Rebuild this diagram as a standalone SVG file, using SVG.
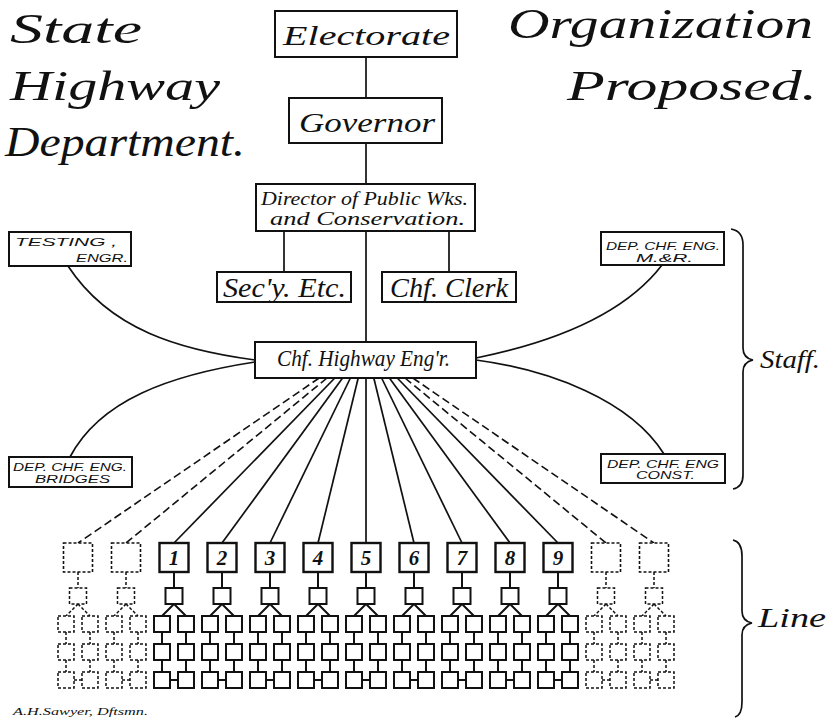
<svg xmlns="http://www.w3.org/2000/svg" xmlns:xlink="http://www.w3.org/1999/xlink" width="829" height="720" viewBox="0 0 829 720">
<style>
.title{font-family:"Liberation Serif","DejaVu Serif",serif;font-style:italic;fill:#111}
.lbl{font-family:"Liberation Serif","DejaVu Serif",serif;font-style:italic;fill:#111}
.cap{font-family:"Liberation Sans","DejaVu Sans",sans-serif;font-style:italic;font-size:11.5px;fill:#111}
.num{font-family:"Liberation Serif","DejaVu Serif",serif;font-style:italic;font-weight:bold;font-size:21px;fill:#111;text-anchor:middle}
.box{fill:#fff;stroke:#111;stroke-width:2}
.nbox{fill:#fff;stroke:#111;stroke-width:2.4}
.dbox{fill:#fff;stroke:#111;stroke-width:1.6;stroke-dasharray:3 2}
.ln{fill:none;stroke:#111;stroke-width:1.7}
.dash{fill:none;stroke:#111;stroke-width:1.6;stroke-dasharray:8 4}
.solid{stroke:#111;stroke-width:2;fill:none}
.dot{stroke:#111;stroke-width:1.5;stroke-dasharray:3 2;fill:none}
</style>
<defs>
<g id="subtree">
<path d="M0 572V588M0 604L-12 616M0 604L12 616M-12 632V644M12 632V644M-12 660V672M12 660V672M-4 680H4"/>
<rect x="-8.5" y="588" width="17" height="16" fill="#fff"/>
<rect x="-20" y="616" width="16" height="16" fill="#fff"/>
<rect x="4" y="616" width="16" height="16" fill="#fff"/>
<rect x="-20" y="644" width="16" height="16" fill="#fff"/>
<rect x="4" y="644" width="16" height="16" fill="#fff"/>
<rect x="-20" y="672" width="16" height="16" fill="#fff"/>
<rect x="4" y="672" width="16" height="16" fill="#fff"/>
</g>
</defs>
<rect width="829" height="720" fill="#fff"/>

<g id="titles">
<text class="title" x="10" y="43" font-size="42" textLength="132" lengthAdjust="spacingAndGlyphs">State</text>
<text class="title" x="10" y="100" font-size="42" textLength="210" lengthAdjust="spacingAndGlyphs">Highway</text>
<text class="title" x="5" y="156" font-size="42" textLength="240" lengthAdjust="spacingAndGlyphs">Department.</text>
<text class="title" x="508" y="38" font-size="42" textLength="305" lengthAdjust="spacingAndGlyphs">Organization</text>
<text class="title" x="567" y="100" font-size="42" textLength="250" lengthAdjust="spacingAndGlyphs">Proposed.</text>
</g>

<g id="connectors">
<path class="ln" d="M366 57V98M366 143V184M366 231V342M284 231V272M449 231V272"/>
<path class="ln" d="M68 266C110 330 180 350 255 360"/>
<path class="ln" d="M70 457C100 400 170 375 255 362"/>
<path class="ln" d="M662 265C620 320 540 345 476 358"/>
<path class="ln" d="M664 454C630 400 550 370 476 360"/>
<path class="dash" d="M319.2 378L78 543"/>
<path class="dash" d="M327 378L126 543"/>
<path class="ln" d="M334.8 378L174 543"/>
<path class="ln" d="M342.6 378L222 543"/>
<path class="ln" d="M350.4 378L270 543"/>
<path class="ln" d="M358.2 378L318 543"/>
<path class="ln" d="M366 378L366 543"/>
<path class="ln" d="M373.8 378L414 543"/>
<path class="ln" d="M381.6 378L462 543"/>
<path class="ln" d="M389.4 378L510 543"/>
<path class="ln" d="M397.2 378L558 543"/>
<path class="dash" d="M405 378L606 543"/>
<path class="dash" d="M412.8 378L654 543"/>
</g>

<g id="electorate">
<rect class="box" x="275" y="11" width="182" height="46"/>
<text class="lbl" x="283" y="45" font-size="28" textLength="167" lengthAdjust="spacingAndGlyphs">Electorate</text>
</g>
<g id="governor">
<rect class="box" x="289" y="98" width="153" height="45"/>
<text class="lbl" x="299" y="132" font-size="28" textLength="136" lengthAdjust="spacingAndGlyphs">Governor</text>
</g>
<g id="director">
<rect class="box" x="256" y="184" width="219" height="47"/>
<text class="lbl" x="261" y="205" font-size="19" textLength="207" lengthAdjust="spacingAndGlyphs">Director of Public Wks.</text>
<text class="lbl" x="270" y="225" font-size="19" textLength="195" lengthAdjust="spacingAndGlyphs">and Conservation.</text>
</g>
<g id="secy">
<rect class="box" x="217" y="272" width="134" height="30"/>
<text class="lbl" x="223" y="297" font-size="27" textLength="123" lengthAdjust="spacingAndGlyphs">Sec'y. Etc.</text>
</g>
<g id="clerk">
<rect class="box" x="382" y="272" width="134" height="30"/>
<text class="lbl" x="390" y="297" font-size="27" textLength="118" lengthAdjust="spacingAndGlyphs">Chf. Clerk</text>
</g>
<g id="chief">
<rect class="box" x="255" y="342" width="221" height="36"/>
<text class="lbl" x="277" y="366" font-size="24" textLength="173" lengthAdjust="spacingAndGlyphs">Chf. Highway Eng'r.</text>
</g>
<g id="testing">
<rect class="box" x="9" y="232" width="122" height="34"/>
<text class="cap" x="15" y="246" textLength="102" lengthAdjust="spacingAndGlyphs">TESTING  ,</text>
<text class="cap" x="76" y="262" textLength="52" lengthAdjust="spacingAndGlyphs">ENGR.</text>
</g>
<g id="mr">
<rect class="box" x="601" y="232" width="123" height="33"/>
<text class="cap" x="606" y="250" textLength="114" lengthAdjust="spacingAndGlyphs">DEP. CHF. ENG.</text>
<text class="cap" x="636" y="262" textLength="57" lengthAdjust="spacingAndGlyphs">M.&amp;R.</text>
</g>
<g id="bridges">
<rect class="box" x="9" y="457" width="123" height="30"/>
<text class="cap" x="13" y="471" textLength="114" lengthAdjust="spacingAndGlyphs">DEP. CHF. ENG.</text>
<text class="cap" x="35" y="483" textLength="75" lengthAdjust="spacingAndGlyphs">BRIDGES</text>
</g>
<g id="const">
<rect class="box" x="601" y="454" width="124" height="29"/>
<text class="cap" x="607" y="468" textLength="112" lengthAdjust="spacingAndGlyphs">DEP. CHF. ENG</text>
<text class="cap" x="636" y="479" textLength="59" lengthAdjust="spacingAndGlyphs">CONST.</text>
</g>

<g id="col-a"><rect class="dbox" x="63.5" y="543" width="29" height="29"/><use xlink:href="#subtree" x="78" class="dot"/></g>
<g id="col-b"><rect class="dbox" x="111.5" y="543" width="29" height="29"/><use xlink:href="#subtree" x="126" class="dot"/></g>
<g id="col-1"><rect class="nbox" x="159.5" y="543" width="29" height="29"/><text class="num" x="174" y="565">1</text><use xlink:href="#subtree" x="174" class="solid"/></g>
<g id="col-2"><rect class="nbox" x="207.5" y="543" width="29" height="29"/><text class="num" x="222" y="565">2</text><use xlink:href="#subtree" x="222" class="solid"/></g>
<g id="col-3"><rect class="nbox" x="255.5" y="543" width="29" height="29"/><text class="num" x="270" y="565">3</text><use xlink:href="#subtree" x="270" class="solid"/></g>
<g id="col-4"><rect class="nbox" x="303.5" y="543" width="29" height="29"/><text class="num" x="318" y="565">4</text><use xlink:href="#subtree" x="318" class="solid"/></g>
<g id="col-5"><rect class="nbox" x="351.5" y="543" width="29" height="29"/><text class="num" x="366" y="565">5</text><use xlink:href="#subtree" x="366" class="solid"/></g>
<g id="col-6"><rect class="nbox" x="399.5" y="543" width="29" height="29"/><text class="num" x="414" y="565">6</text><use xlink:href="#subtree" x="414" class="solid"/></g>
<g id="col-7"><rect class="nbox" x="447.5" y="543" width="29" height="29"/><text class="num" x="462" y="565">7</text><use xlink:href="#subtree" x="462" class="solid"/></g>
<g id="col-8"><rect class="nbox" x="495.5" y="543" width="29" height="29"/><text class="num" x="510" y="565">8</text><use xlink:href="#subtree" x="510" class="solid"/></g>
<g id="col-9"><rect class="nbox" x="543.5" y="543" width="29" height="29"/><text class="num" x="558" y="565">9</text><use xlink:href="#subtree" x="558" class="solid"/></g>
<g id="col-c"><rect class="dbox" x="591.5" y="543" width="29" height="29"/><use xlink:href="#subtree" x="606" class="dot"/></g>
<g id="col-d"><rect class="dbox" x="639.5" y="543" width="29" height="29"/><use xlink:href="#subtree" x="654" class="dot"/></g>

<g id="staff-brace">
<path class="ln" d="M731 229Q743 231 743 245L743 348Q743 358 753 360Q743 362 743 372L743 475Q743 487 733 489"/>
<text class="title" x="760" y="368" font-size="26" textLength="60" lengthAdjust="spacingAndGlyphs">Staff.</text>
</g>
<g id="line-brace">
<path class="ln" d="M733 540Q742 542 742 556L742 611Q742 621 752 623Q742 625 742 635L742 702Q742 715 735 717"/>
<text class="title" x="758" y="627" font-size="28" textLength="68" lengthAdjust="spacingAndGlyphs">Line</text>
</g>
<g id="signature">
<text class="title" x="13" y="715" font-size="11" textLength="135" lengthAdjust="spacingAndGlyphs">A.H.Sawyer, Dftsmn.</text>
</g>
</svg>
